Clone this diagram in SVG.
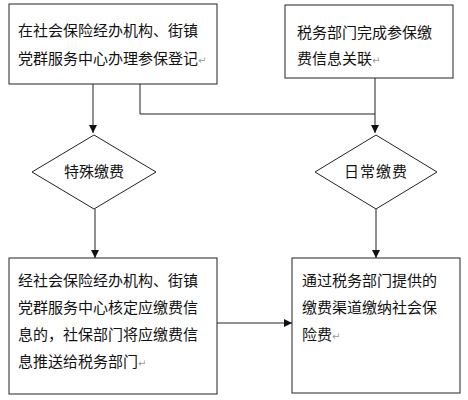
<svg xmlns="http://www.w3.org/2000/svg" width="468" height="400" viewBox="0 0 468 400">
<style>
.box{fill:#fff;stroke:#222;stroke-width:1}
.t{font-family:"Noto Sans CJK SC","Noto Sans",sans-serif;font-size:15px;fill:#111}
.m{font-family:"DejaVu Sans",sans-serif;font-size:10px;fill:#999}
.c{fill:none;stroke:#222;stroke-width:1}
</style>
<defs>
<marker id="a" viewBox="0 0 10 10" refX="10" refY="5" markerWidth="8" markerHeight="8" markerUnits="userSpaceOnUse" orient="auto">
<path d="M0,0L10,5L0,10z" fill="#111"/>
</marker>
</defs>
<rect width="468" height="400" fill="#fff"/>
<g id="connectors">
<path class="c" d="M93,84V133" marker-end="url(#a)"/>
<path class="c" d="M140,84V114H375"/>
<path class="c" d="M375,78V133" marker-end="url(#a)"/>
<path class="c" d="M95,209V258" marker-end="url(#a)"/>
<path class="c" d="M376,209V258" marker-end="url(#a)"/>
<path class="c" d="M217,323H292" marker-end="url(#a)"/>
</g>
<g id="n1">
<rect class="box" x="9" y="4" width="208" height="80"/>
<text class="t" x="18" y="36">在社会保险经办机构、街镇</text>
<text class="t" x="18" y="64">党群服务中心办理参保登记<tspan class="m">↵</tspan></text>
</g>
<g id="n2">
<rect class="box" x="285" y="5" width="168" height="73"/>
<text class="t" x="297" y="38">税务部门完成参保缴</text>
<text class="t" x="297" y="64">费信息关联<tspan class="m">↵</tspan></text>
</g>
<g id="d1">
<polygon class="box" points="94,135 156,172 94,209 32,172"/>
<text class="t" x="94" y="177" text-anchor="middle">特殊缴费</text>
</g>
<g id="d2">
<polygon class="box" points="376,135 437,172 376,209 315,172"/>
<text class="t" x="376" y="177" text-anchor="middle" letter-spacing="1">日常缴费</text>
</g>
<g id="n3">
<rect class="box" x="9" y="258" width="208" height="136"/>
<text class="t" x="18" y="286">经社会保险经办机构、街镇</text>
<text class="t" x="18" y="313">党群服务中心核定应缴费信</text>
<text class="t" x="18" y="340">息的，社保部门将应缴费信</text>
<text class="t" x="18" y="367">息推送给税务部门<tspan class="m">↵</tspan></text>
</g>
<g id="n4">
<rect class="box" x="292" y="258" width="168" height="135"/>
<text class="t" x="302" y="286">通过税务部门提供的</text>
<text class="t" x="302" y="313">缴费渠道缴纳社会保</text>
<text class="t" x="302" y="340">险费<tspan class="m">↵</tspan></text>
</g>
</svg>
